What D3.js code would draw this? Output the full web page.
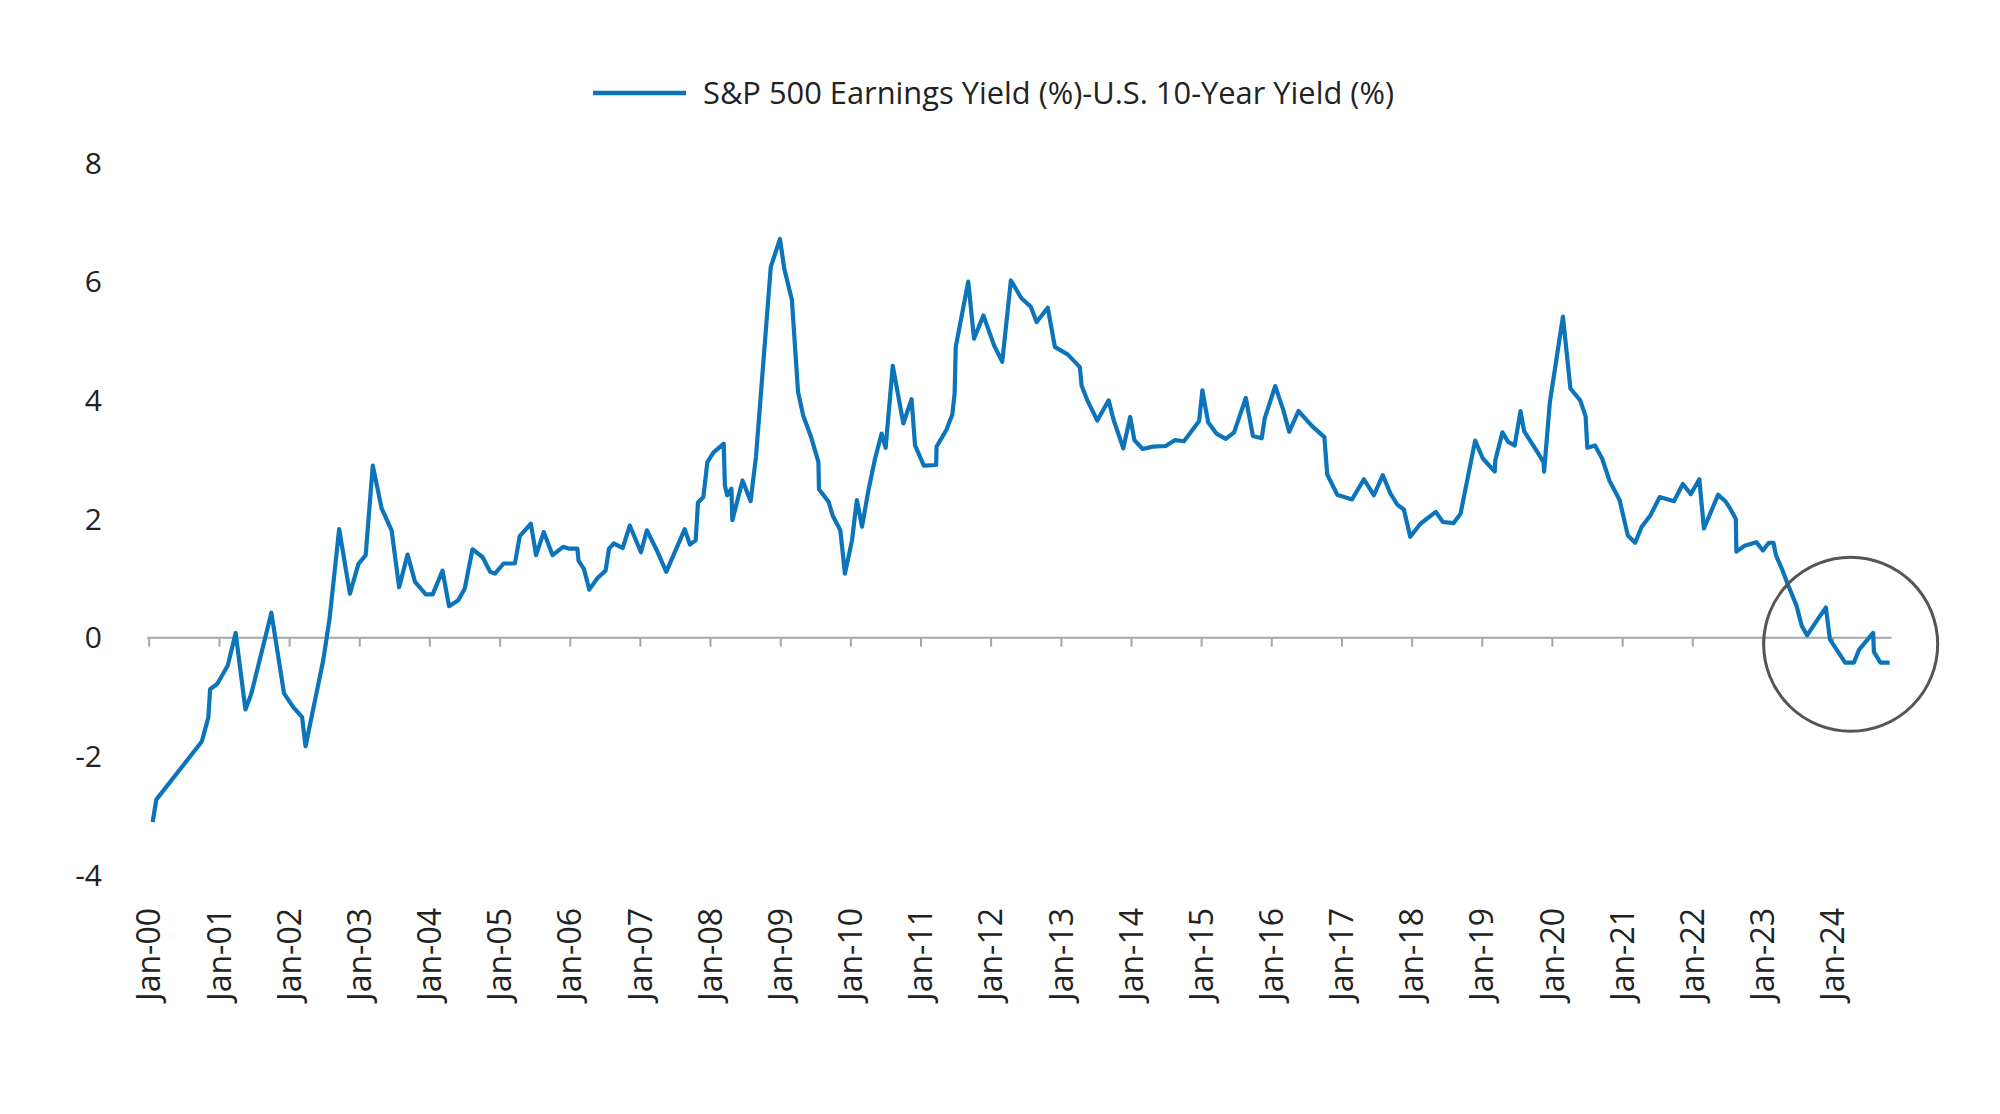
<!DOCTYPE html>
<html><head><meta charset="utf-8">
<script src="https://cdn.jsdelivr.net/npm/d3@7"></script>
<style>html,body{margin:0;padding:0;background:#fff;} svg{display:block;}</style>
</head><body>
<svg id="chart" width="2000" height="1114"></svg>
<script>
const seriesName = "S&P 500 Earnings Yield (%)-U.S. 10-Year Yield (%)";

const dates = [
"2000-01-19","2000-02-07","2000-10-01","2000-11-04","2000-11-13","2000-12-20","2001-02-13","2001-03-26","2001-05-16","2001-06-16",
"2001-09-28","2001-12-03","2002-01-20","2002-03-07","2002-03-25","2002-06-25","2002-07-28","2002-09-16","2002-11-11","2002-12-25",
"2003-02-01","2003-03-10","2003-04-25","2003-06-16","2003-07-25","2003-09-07","2003-10-16","2003-12-11","2004-01-16","2004-03-07",
"2004-04-10","2004-05-28","2004-07-01","2004-08-10","2004-10-01","2004-11-10","2004-12-05","2005-01-19","2005-03-19","2005-04-13",
"2005-06-10","2005-07-07","2005-08-16","2005-10-01","2005-11-25","2005-12-28","2006-02-07","2006-02-13","2006-03-13","2006-04-10",
"2006-05-22","2006-07-04","2006-07-22","2006-08-16","2006-10-01","2006-11-07","2007-01-04","2007-02-04","2007-03-28","2007-05-16",
"2007-08-20","2007-09-16","2007-10-16","2007-10-28","2007-11-25","2007-12-16","2008-01-16","2008-03-10","2008-03-16","2008-03-28",
"2008-04-19","2008-04-24","2008-06-16","2008-07-28","2008-08-25","2008-11-10","2008-12-28","2009-01-19","2009-02-28","2009-04-01",
"2009-04-28","2009-06-10","2009-07-16","2009-07-19","2009-09-07","2009-09-28","2009-11-07","2009-12-01","2010-01-07","2010-02-01",
"2010-02-28","2010-04-01","2010-05-07","2010-06-10","2010-07-01","2010-08-07","2010-10-01","2010-11-13","2010-12-01","2011-01-16",
"2011-03-21","2011-03-23","2011-05-13","2011-06-13","2011-06-25","2011-07-01","2011-09-04","2011-10-04","2011-11-22","2012-01-16",
"2012-02-28","2012-04-13","2012-06-07","2012-07-25","2012-08-25","2012-10-22","2012-11-28","2013-02-04","2013-04-07","2013-04-16",
"2013-05-16","2013-07-07","2013-09-04","2013-09-28","2013-11-19","2013-12-25","2014-01-16","2014-02-28","2014-04-22","2014-06-28",
"2014-08-16","2014-10-01","2014-12-19","2015-01-05","2015-02-04","2015-03-19","2015-05-07","2015-06-19","2015-08-19","2015-09-25",
"2015-11-10","2015-11-25","2016-01-19","2016-03-01","2016-04-01","2016-05-19","2016-07-28","2016-10-01","2016-10-16","2016-12-07",
"2017-02-22","2017-04-25","2017-06-16","2017-08-01","2017-09-10","2017-10-16","2017-11-19","2017-12-22","2018-02-13","2018-05-04",
"2018-06-10","2018-08-04","2018-09-10","2018-11-25","2019-01-04","2019-03-07","2019-03-10","2019-04-16","2019-05-16","2019-06-19",
"2019-07-19","2019-08-07","2019-10-07","2019-11-16","2019-11-19","2019-12-19","2020-02-25","2020-04-04","2020-05-25","2020-06-22",
"2020-07-01","2020-08-10","2020-09-16","2020-10-25","2020-12-16","2021-01-28","2021-03-07","2021-04-10","2021-05-25","2021-07-13",
"2021-09-25","2021-11-10","2021-12-22","2022-02-04","2022-02-28","2022-05-13","2022-06-22","2022-07-16","2022-08-13","2022-08-16",
"2022-09-28","2022-11-28","2023-01-01","2023-02-01","2023-02-25","2023-03-10","2023-04-10","2023-05-13","2023-06-25","2023-07-22",
"2023-08-19","2023-10-07","2023-11-25","2023-12-16","2024-03-04","2024-04-19","2024-05-16","2024-07-28","2024-08-01","2024-09-04",
"2024-10-22"
];

const values = [
-3.11,-2.73,-1.75,-1.34,-0.87,-0.78,-0.47,0.08,-1.21,-0.94,
0.42,-0.94,-1.17,-1.34,-1.83,-0.38,0.32,1.83,0.74,1.24,
1.39,2.90,2.18,1.81,0.85,1.40,0.94,0.73,0.73,1.13,
0.53,0.63,0.83,1.49,1.36,1.11,1.08,1.25,1.25,1.71,
1.92,1.39,1.78,1.39,1.53,1.50,1.50,1.30,1.16,0.81,
1.00,1.13,1.50,1.59,1.51,1.89,1.44,1.81,1.47,1.11,
1.83,1.57,1.64,2.28,2.37,2.96,3.12,3.27,2.57,2.40,
2.51,1.98,2.65,2.30,3.05,6.25,6.72,6.22,5.69,4.14,
3.74,3.36,2.96,2.50,2.29,2.06,1.81,1.08,1.64,2.32,
1.87,2.46,3.02,3.44,3.20,4.58,3.61,4.02,3.24,2.90,
2.91,3.22,3.50,3.76,4.11,4.90,6.00,5.04,5.43,4.93,
4.65,6.02,5.72,5.58,5.32,5.56,4.90,4.77,4.56,4.25,
4.00,3.66,4.00,3.69,3.19,3.72,3.33,3.18,3.22,3.23,
3.33,3.31,3.65,4.17,3.63,3.44,3.35,3.46,4.04,3.40,
3.36,3.69,4.24,3.84,3.47,3.82,3.57,3.38,2.75,2.41,
2.33,2.67,2.40,2.74,2.43,2.24,2.16,1.70,1.92,2.12,
1.95,1.93,2.09,3.32,3.02,2.80,2.99,3.46,3.30,3.24,
3.82,3.48,3.17,2.96,2.80,3.97,5.41,4.20,4.00,3.73,
3.20,3.24,3.02,2.64,2.32,1.72,1.60,1.87,2.06,2.37,
2.30,2.59,2.42,2.67,1.84,2.41,2.29,2.17,2.00,1.45,
1.55,1.61,1.47,1.60,1.60,1.39,1.16,0.88,0.54,0.20,
0.04,0.28,0.51,-0.03,-0.42,-0.42,-0.20,0.08,-0.24,-0.42,
-0.42
];

const yTicks = [-4, -2, 0, 2, 4, 6, 8];
const xTickLabels = ["Jan-00","Jan-01","Jan-02","Jan-03","Jan-04","Jan-05","Jan-06","Jan-07","Jan-08","Jan-09","Jan-10","Jan-11","Jan-12",
                     "Jan-13","Jan-14","Jan-15","Jan-16","Jan-17","Jan-18","Jan-19","Jan-20","Jan-21","Jan-22","Jan-23","Jan-24"];
const axisEndDate = "2024-11-01";
const highlight = { date: "2024-04-02", value: -0.11 };

const parseDay = d3.timeParse("%Y-%m-%d");
const parseTick = d3.timeParse("%b-%y");
const data = dates.map((d, i) => ({ date: parseDay(d), value: values[i] }));
const tickDates = xTickLabels.map(parseTick);

const svg = d3.select("#chart");
const FONT = "'Open Sans', 'Noto Sans', sans-serif";
const LINE = "#0b74ba";

const x = d3.scaleTime()
  .domain([tickDates[0], tickDates[tickDates.length - 1]])
  .range([149.2, 1833]);
const y = d3.scaleLinear().domain([-4, 8]).range([875, 163]);

// y labels
svg.append("g").selectAll("text").data(yTicks).join("text")
  .attr("x", 102).attr("y", d => y(d)).attr("dy", "0.35em")
  .attr("text-anchor", "end")
  .attr("font-family", FONT).attr("font-size", 30).attr("fill", "#222")
  .text(d => d);

// zero axis with ticks
const axisG = svg.append("g");
axisG.append("line")
  .attr("x1", x(tickDates[0]) - 2).attr("x2", x(parseDay(axisEndDate)))
  .attr("y1", y(0)).attr("y2", y(0))
  .attr("stroke", "#a6a6a6").attr("stroke-width", 2);
axisG.selectAll("line.tk").data(tickDates).join("line").attr("class", "tk")
  .attr("x1", d => x(d)).attr("x2", d => x(d))
  .attr("y1", y(0)).attr("y2", y(0) + 9)
  .attr("stroke", "#a6a6a6").attr("stroke-width", 2);

// x labels rotated
svg.append("g").selectAll("text").data(tickDates).join("text")
  .attr("transform", d => `translate(${x(d)},908) rotate(-90)`)
  .attr("dy", "0.35em")
  .attr("text-anchor", "end")
  .attr("font-family", FONT).attr("font-size", 32).attr("fill", "#222")
  .text((d, i) => xTickLabels[i]);

// series line
const line = d3.line().x(d => x(d.date)).y(d => y(d.value));
svg.append("path").datum(data)
  .attr("d", line).attr("fill", "none")
  .attr("stroke", LINE).attr("stroke-width", 4.2)
  .attr("stroke-linejoin", "round").attr("stroke-linecap", "butt");

// highlight circle
svg.append("circle")
  .attr("cx", x(parseDay(highlight.date))).attr("cy", y(highlight.value))
  .attr("r", 87).attr("fill", "none")
  .attr("stroke", "#555").attr("stroke-width", 3);

// legend
const lg = svg.append("g");
lg.append("line").attr("x1", 593).attr("x2", 686).attr("y1", 93).attr("y2", 93)
  .attr("stroke", LINE).attr("stroke-width", 4.5);
lg.append("text").attr("x", 703).attr("y", 93).attr("dy", "0.36em")
  .attr("font-family", FONT).attr("font-size", 31).attr("fill", "#222")
  .attr("textLength", 691).attr("lengthAdjust", "spacingAndGlyphs")
  .text(seriesName);
</script>
</body></html>
